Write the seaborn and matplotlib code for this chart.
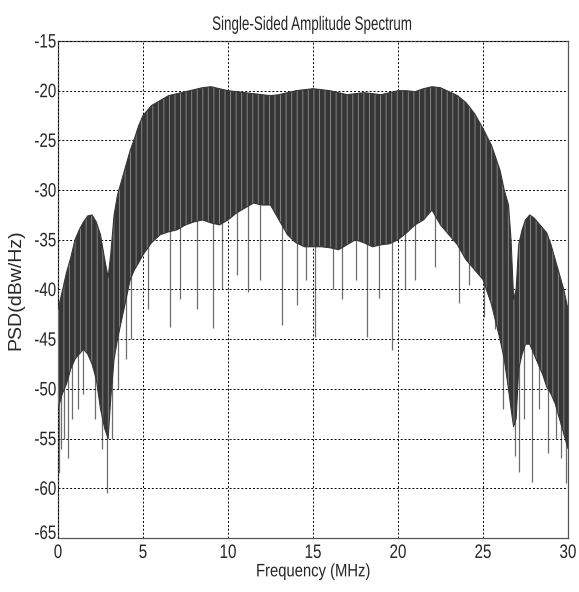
import numpy as np
import matplotlib
matplotlib.use("Agg")
import matplotlib.pyplot as plt
from matplotlib import patheffects
from matplotlib.transforms import Affine2D, ScaledTranslation
import seaborn as sns
import pandas as pd

# ---- data (envelope of the dense spectrum) ----
freq = [0, 0.25, 0.5, 0.75, 1.0, 1.25, 1.5, 1.75, 2.0, 2.25, 2.5, 2.75, 2.95,
        3.1, 3.3, 3.5, 3.75, 4.0, 4.25, 4.5, 4.75, 5.0, 5.5, 6.0, 6.5, 7.0,
        7.5, 8.0, 8.5, 9.0, 9.5, 10.0, 10.5, 11.0, 11.5, 12.0, 12.5, 13.0,
        13.5, 14.0, 14.5, 15.0, 15.5, 16.0, 16.5, 17.0, 17.5, 18.0, 18.5,
        19.0, 19.5, 20.0, 20.5, 21.0, 21.5, 22.0, 22.5, 23.0, 23.5, 24.0,
        24.5, 25.0, 25.5, 26.0, 26.25, 26.5, 26.65, 26.8, 26.95, 27.1, 27.3,
        27.5, 27.75, 28.0, 28.25, 28.5, 28.75, 29.0, 29.25, 29.5, 29.75, 30.0]

upper = [-42.0, -40.2, -38.3, -36.8, -35.0, -34.0, -33.2, -32.6, -32.5, -33.2,
         -34.5, -37.0, -38.8, -36.5, -32.5, -30.5, -29.0, -27.5, -26.0, -24.8,
         -23.5, -22.5, -21.5, -21.0, -20.5, -20.3, -20.1, -19.9, -19.7, -19.6,
         -19.8, -20.0, -20.1, -20.2, -20.3, -20.4, -20.5, -20.4, -20.2, -20.0,
         -19.9, -19.8, -19.9, -20.0, -20.2, -20.4, -20.3, -20.2, -20.3, -20.4,
         -20.2, -20.0, -20.0, -20.1, -19.8, -19.6, -19.7, -20.1, -20.5, -21.2,
         -22.3, -23.8, -25.5, -28.0, -30.0, -31.5, -35.0, -41.0, -40.0, -35.5,
         -34.0, -33.0, -32.5, -32.8, -33.3, -33.8, -34.3, -35.5, -37.0, -38.5,
         -40.0, -42.0]

lower = [-52.0, -50.5, -49.5, -48.0, -47.0, -46.5, -46.0, -46.5, -47.5, -49.0,
         -52.0, -54.0, -55.0, -51.0, -47.0, -45.0, -43.0, -41.0, -39.0, -38.0,
         -37.3, -36.5, -35.3, -34.5, -34.2, -34.0, -33.5, -33.2, -33.0, -33.3,
         -33.5, -33.0, -32.3, -31.8, -31.3, -31.5, -31.5, -33.0, -34.5, -35.3,
         -35.7, -35.7, -35.7, -35.8, -36.0, -35.5, -35.0, -35.3, -35.7, -35.5,
         -35.4, -35.0, -34.3, -33.5, -33.0, -32.0, -33.5, -34.5, -35.5, -37.0,
         -38.0, -39.0, -41.5, -45.0, -47.0, -50.0, -52.0, -53.8, -53.0, -48.0,
         -46.5, -45.5, -45.5, -46.5, -47.5, -48.5, -49.8, -50.5, -51.5, -53.0,
         -54.5, -56.0]

spike_freq = [0.05, 0.15, 0.35, 0.6, 0.85, 1.15, 1.45, 2.2, 2.6, 2.9, 3.2, 3.55,
              4.0, 4.3, 5.3, 6.6, 7.2, 8.2, 9.1, 9.65, 10.5, 11.2, 11.9, 13.2,
              14.05, 14.6, 15.1, 16.2, 16.7, 17.5, 18.2, 18.9, 19.65, 20.4, 21.0,
              22.2, 23.6, 24.2, 25.06, 25.7, 26.2, 26.9, 27.1, 27.4, 27.9, 28.3,
              28.85, 29.3, 29.6, 29.9]
spike_min = [-58.5, -56.0, -55.0, -57.0, -53.0, -52.0, -50.5, -53.0, -56.0, -60.5,
             -55.0, -50.0, -47.0, -45.0, -42.0, -43.8, -41.0, -42.0, -43.9, -40.0,
             -38.5, -40.3, -39.0, -43.6, -41.6, -39.0, -44.8, -40.0, -41.0, -39.0,
             -44.8, -40.9, -46.1, -40.0, -39.0, -37.7, -41.4, -39.5, -42.8, -44.0,
             -52.0, -56.8, -58.4, -53.0, -59.4, -52.0, -56.4, -55.0, -57.0, -59.5]

x_ticks = [0, 5, 10, 15, 20, 25, 30]
y_ticks = [-65, -60, -55, -50, -45, -40, -35, -30, -25, -20, -15]


class Condense(patheffects.AbstractPathEffect):
    """Draw text horizontally condensed (like Arial Narrow rendering)."""

    def __init__(self, sx=0.8, anchor="center"):
        super().__init__()
        self.sx = sx
        self.anchor = anchor

    def draw_path(self, renderer, gc, tpath, affine, rgbFace=None):
        ext = tpath.get_extents()
        if self.anchor == "right":
            cx = ext.x1
        elif self.anchor == "left":
            cx = ext.x0
        else:
            cx = 0.5 * (ext.x0 + ext.x1)
        t = Affine2D().translate(-cx, 0).scale(self.sx, 1.0).translate(cx, 0) + affine
        renderer.draw_path(gc, tpath, t, rgbFace)


# ---- styling ----
sns.set_style("white")
plt.rcParams['font.family'] = ['Liberation Sans', 'DejaVu Sans']
plt.rcParams['hatch.linewidth'] = 0.7

fig = plt.figure(figsize=(5.79, 5.92), dpi=100)
ax = fig.add_axes([58 / 579, 1 - 538 / 592, 510 / 579, 497 / 592])

env = pd.DataFrame({"f": freq, "upper": upper, "lower": lower})
line_col = "#363636"

# deep spikes below the dense band
spike_top = np.interp(spike_freq, freq, upper) - 1.0
ax.vlines(spike_freq, spike_min, spike_top, color="#6e6e6e", lw=0.9, zorder=2)

# dense band
ax.fill_between(env["f"], env["lower"], env["upper"], facecolor=line_col,
                edgecolor="#858585", hatch="|||", linewidth=0, zorder=3)
sns.lineplot(data=env, x="f", y="upper", ax=ax, color=line_col, lw=0.8,
             estimator=None, sort=False, zorder=4)
sns.lineplot(data=env, x="f", y="lower", ax=ax, color=line_col, lw=0.8,
             estimator=None, sort=False, zorder=4)

ax.set_xlim(0, 30)
ax.set_ylim(-65, -15)
ax.set_xticks(x_ticks)
ax.set_yticks(y_ticks)
ax.set_xticklabels([str(t) for t in x_ticks], fontsize=14)
ax.set_yticklabels([str(t) for t in y_ticks], fontsize=14)
for lab in ax.get_xticklabels():
    lab.set_path_effects([Condense(0.78, "center")])
for lab in ax.get_yticklabels():
    lab.set_path_effects([Condense(0.78, "right")])
ax.tick_params(axis="x", direction="in", length=3, width=0.6, color="#333333", pad=5)
ax.tick_params(axis="y", direction="in", length=3, width=0.6, color="#333333", pad=1)

# nudge the bottom y label up a little so it does not collide with the "0"
ylabs = ax.get_yticklabels()
ylabs[0].set_transform(ylabs[0].get_transform() +
                       ScaledTranslation(0, 4 / 72, fig.dpi_scale_trans))

ax.grid(True, color="black", linestyle=(0, (2.0, 2.0)), linewidth=0.7, zorder=1)
ax.set_axisbelow(False)
for s in ax.spines.values():
    s.set_color("#555555")
    s.set_linewidth(0.9)
    s.set_visible(True)

t = ax.set_title("Single-Sided Amplitude Spectrum", fontsize=14, pad=8)
t.set_path_effects([Condense(0.69, "center")])
xl = ax.set_xlabel("Frequency (MHz)", fontsize=13, labelpad=1)
xl.set_path_effects([Condense(0.82, "center")])
ax.set_ylabel("PSD(dBw/Hz)", fontsize=14, labelpad=3)

fig.savefig("out.png", dpi=100)
